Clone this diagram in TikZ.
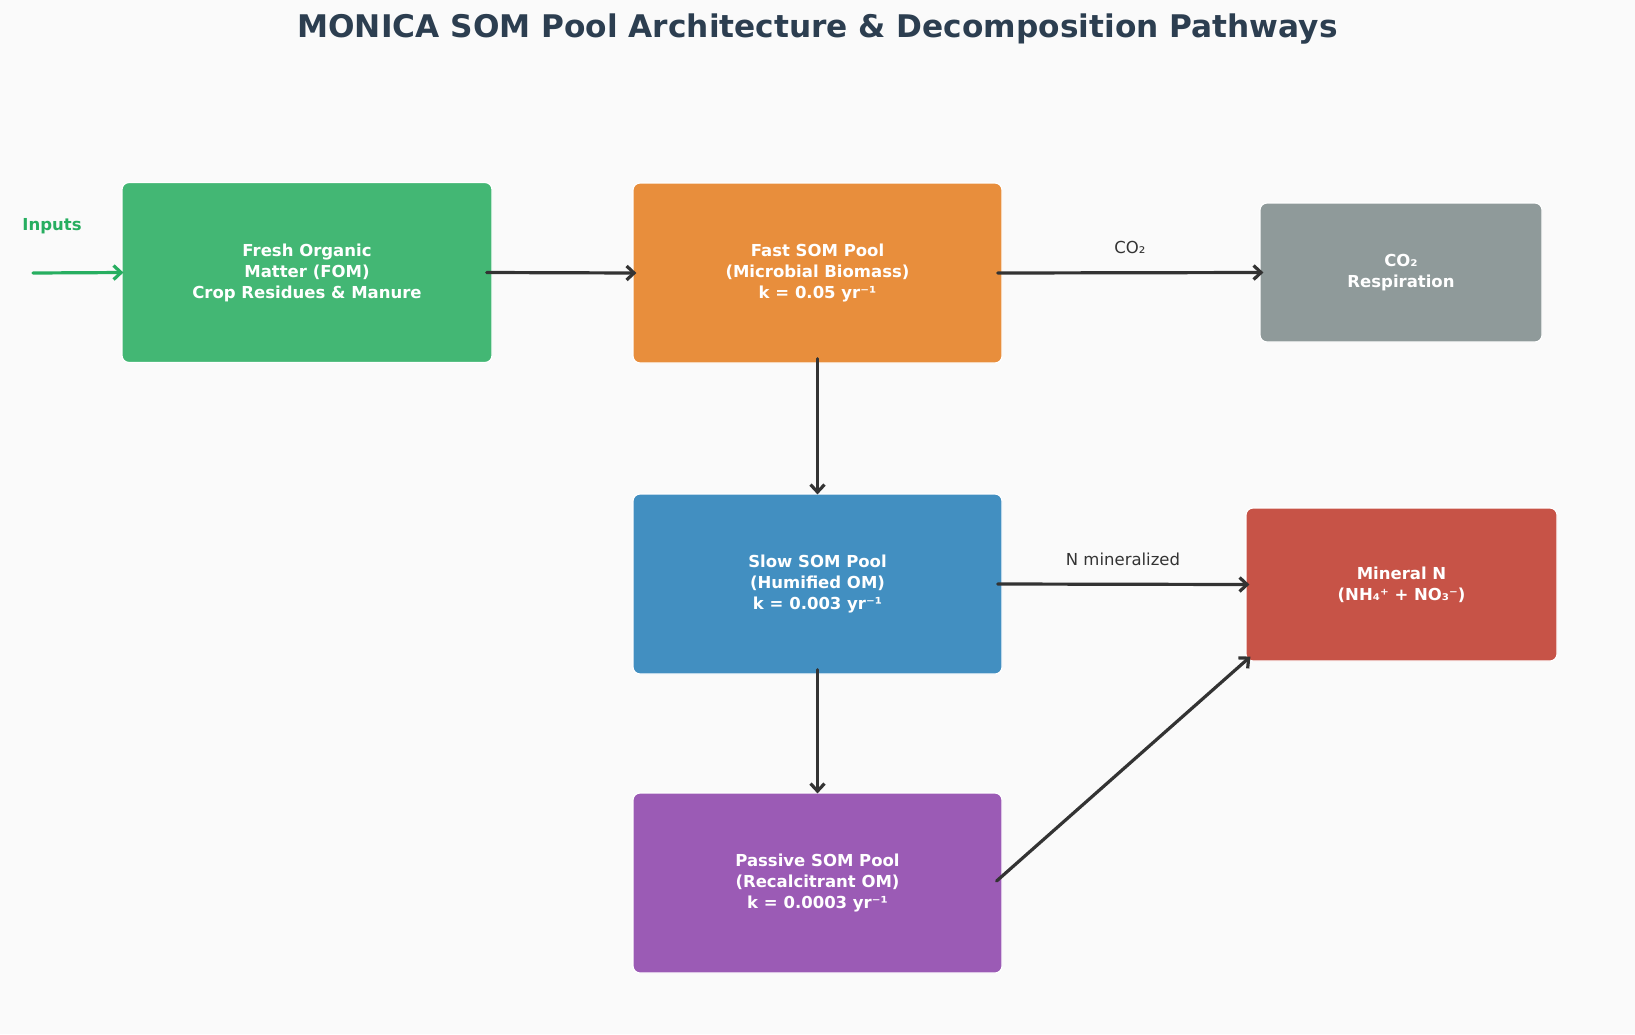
\documentclass[tikz,border=0pt]{standalone}
\usepackage{fontspec}
\setmainfont{DejaVu Sans}
\usetikzlibrary{arrows.meta}
\definecolor{bg}{HTML}{FAFAFA}
\definecolor{titlec}{HTML}{2C3E50}
\definecolor{cgreen}{HTML}{43B774}
\definecolor{corange}{HTML}{E88E3C}
\definecolor{cblue}{HTML}{428FC1}
\definecolor{cgray}{HTML}{8F9A9A}
\definecolor{cred}{HTML}{C75347}
\definecolor{cpurple}{HTML}{9B5BB5}
\definecolor{inputc}{HTML}{27AE60}
\definecolor{arrc}{HTML}{333333}
\tikzset{
  pool/.style={draw=white, line width=1.2pt, rounded corners=7pt, text=white,
    font=\fontsize{16.5}{21}\selectfont\bfseries, align=center, inner sep=0pt},
  flow/.style={draw=arrc, line width=3.2pt, line cap=round,
    -{Straight Barb[length=7.5pt,width=14pt,line width=3.2pt]}},
  lbl/.style={text=arrc, font=\fontsize{16.5}{20}\selectfont, inner sep=0pt}
}
\begin{document}
\begin{tikzpicture}[x=1pt,y=-1pt]
\useasboundingbox[fill=bg] (0,0) rectangle (1635,1034);
\node[text=titlec, font=\fontsize{31.2}{36}\selectfont\bfseries] (title) at (817.5,29) {MONICA SOM Pool Architecture \& Decomposition Pathways};

\node[pool, fill=cgreen, minimum width=370pt, minimum height=180pt] (fom) at (307,272.5) {Fresh Organic\\Matter (FOM)\\Crop Residues \& Manure};
\node[pool, fill=corange, minimum width=369pt, minimum height=180pt] (fast) at (817.5,273) {Fast SOM Pool\\(Microbial Biomass)\\k = 0.05 yr⁻¹};
\node[pool, fill=cgray, minimum width=282pt, minimum height=139pt] (co2) at (1401,272.5) {CO₂\\Respiration};
\node[pool, fill=cblue, minimum width=369pt, minimum height=180pt] (slow) at (817.5,584) {Slow SOM Pool\\(Humified OM)\\k = 0.003 yr⁻¹};
\node[pool, fill=cred, minimum width=311pt, minimum height=153pt] (minn) at (1401.5,584.5) {Mineral N\\(NH₄⁺ + NO₃⁻)};
\node[pool, fill=cpurple, minimum width=369pt, minimum height=180pt] (passive) at (817.5,883) {Passive SOM Pool\\(Recalcitrant OM)\\k = 0.0003 yr⁻¹};

\node[text=inputc, font=\fontsize{16.5}{20}\selectfont\bfseries] (inlbl) at (52,226) {Inputs};
\coordinate (insrc) at (33,273);
\draw[flow, draw=inputc] (insrc) -- ([xshift=2pt]fom.west);

\draw[flow] ([xshift=-6pt]fom.east) -- ([xshift=4pt]fast.west);
\draw[flow] ([xshift=-5pt]fast.east) -- ([xshift=4pt]co2.west);
\draw[flow] ([yshift=5pt]fast.south) -- ([yshift=-1pt]slow.north);
\draw[flow] ([xshift=-5pt]slow.east) -- ([xshift=4pt]minn.west);
\draw[flow] ([yshift=5pt]slow.south) -- ([yshift=-1pt]passive.north);
\draw[flow] ([xshift=-6pt,yshift=2pt]passive.east) -- ([xshift=5pt,yshift=5pt]minn.south west);

\node[lbl] (lco2) at (1130,247) {CO₂};
\node[lbl] (lnmin) at (1123,559) {N mineralized};
\end{tikzpicture}
\end{document}
